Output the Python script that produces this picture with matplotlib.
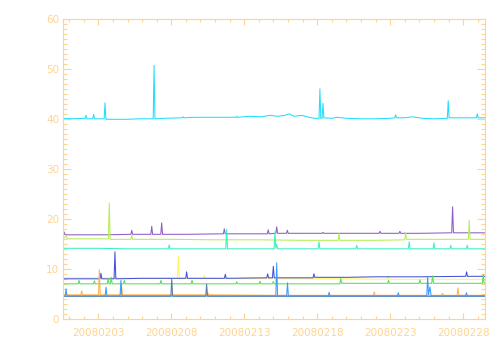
import numpy as np
import matplotlib
matplotlib.use("Agg")
import matplotlib.pyplot as plt

# axis colour (IDL style light orange)
axcol = '#FFD48F'

# x in day-of-month (Feb 2008), y in raw units
cyan_x = [0.6, 1.2, 2.1, 2.16, 2.22, 2.62, 2.68, 2.74, 3.4, 3.46, 3.52, 4.2, 5.0, 5.8,
          6.76, 6.82, 6.88, 7.5, 8.74, 8.80, 8.86, 9.5, 10.5, 11.5, 12.42, 12.48, 12.54,
          13.39, 14.2, 14.76, 15.3, 15.8, 16.08, 16.4, 16.95, 17.3, 17.8, 18.12, 18.18,
          18.24, 18.33, 18.39, 18.45, 19.0, 19.34, 20.0, 21.0, 22.0, 23.0, 23.31, 23.37,
          23.43, 24.0, 24.55, 25.2, 26.0, 26.91, 26.97, 27.03, 28.0, 28.9, 28.96, 29.02, 29.49]
cyan_y = [40.2, 40.1, 40.2, 40.8, 40.1, 40.1, 41.0, 40.1, 40.1, 43.3, 40.0, 40.0, 40.0, 40.1,
          40.1, 50.8, 40.1, 40.2, 40.3, 40.5, 40.3, 40.4, 40.4, 40.4, 40.4, 40.6, 40.4,
          40.6, 40.5, 40.8, 40.6, 40.8, 41.1, 40.6, 40.8, 40.5, 40.2, 40.2, 46.1,
          40.2, 40.2, 43.2, 40.3, 40.2, 40.4, 40.2, 40.1, 40.1, 40.2, 40.3, 40.9,
          40.3, 40.3, 40.5, 40.2, 40.1, 40.2, 43.7, 40.3, 40.3, 40.3, 41.1, 40.3, 40.3]

purple_x = [0.6, 0.65, 0.72, 2.0, 3.5, 5.23, 5.29, 5.35, 6.60, 6.66, 6.72, 7.28, 7.34, 7.40,
            9.0, 11.57, 11.63, 11.69, 13.0, 14.58, 14.64, 14.70, 15.16, 15.22, 15.28, 15.89,
            15.95, 16.01, 18.33, 18.39, 18.45, 20.0, 22.23, 22.29, 22.35, 23.60, 23.66, 23.72,
            25.0, 27.21, 27.27, 27.33, 29.49]
purple_y = [17.0, 17.5, 16.9, 16.9, 16.9, 17.0, 17.8, 17.0, 17.0, 18.6, 17.0, 17.0, 19.3, 17.0,
            17.0, 17.1, 18.1, 17.1, 17.1, 17.1, 17.9, 17.1, 17.2, 18.5, 17.2, 17.2,
            17.8, 17.2, 17.2, 17.4, 17.2, 17.2, 17.2, 17.6, 17.2, 17.2, 17.6, 17.2,
            17.2, 17.3, 22.5, 17.3, 17.3]

lgreen_x = [0.6, 0.79, 0.9, 2.5, 3.69, 3.75, 3.81, 5.23, 5.29, 5.35, 8.0, 11.0, 14.0, 17.0,
            19.43, 19.49, 19.55, 22.0, 23.99, 24.05, 24.11, 26.0, 28.35, 28.41, 28.47, 29.49]
lgreen_y = [16.1, 16.6, 16.1, 16.1, 16.1, 23.3, 16.0, 16.0, 16.8, 16.0, 16.0, 15.9, 15.9, 15.8,
            15.8, 17.2, 15.8, 15.8, 15.9, 17.3, 16.0, 16.0, 16.0, 19.8, 16.0, 16.0]

aqua_x = [0.6, 3.0, 5.0, 7.80, 7.86, 7.92, 10.0, 11.73, 11.79, 11.85, 13.5, 15.04, 15.10,
          15.16, 15.22, 15.28, 18.06, 18.12, 18.18, 20.64, 20.70, 20.76, 24.24, 24.30, 24.36,
          25.93, 25.99, 26.05, 27.08, 27.14, 27.20, 28.21, 28.27, 28.33, 29.49]
aqua_y = [14.2, 14.2, 14.1, 14.1, 14.9, 14.1, 14.1, 14.1, 18.0, 14.1, 14.1, 14.1, 17.5,
          14.2, 15.0, 14.1, 14.1, 15.5, 14.1, 14.1, 14.8, 14.1, 14.1, 15.5, 14.1,
          14.1, 15.3, 14.1, 14.1, 14.8, 14.1, 14.1, 14.8, 14.1, 14.1]

yellow_x = [0.6, 3.0, 6.0, 8.42, 8.48, 8.54, 10.2, 10.26, 10.32, 15.0, 20.0, 22.79, 22.85,
            22.91, 29.49]
yellow_y = [8.3, 8.3, 8.2, 8.2, 12.7, 8.2, 8.2, 8.8, 8.2, 8.1, 8.1, 8.0, 8.7, 8.0, 8.0]

blue_x = [0.6, 2.0, 3.12, 3.18, 3.24, 4.08, 4.14, 4.20, 6.0, 8.99, 9.05, 9.11, 11.64, 11.70,
          11.76, 14.54, 14.60, 14.66, 14.93, 14.99, 15.05, 17.71, 17.77, 17.83, 20.0, 22.0,
          25.0, 28.17, 28.23, 28.29, 29.49]
blue_y = [8.1, 8.1, 8.1, 9.2, 8.1, 8.1, 13.5, 8.1, 8.2, 8.2, 9.5, 8.2, 8.2, 9.0,
          8.2, 8.3, 9.1, 8.3, 8.3, 10.6, 8.3, 8.3, 9.1, 8.4, 8.4, 8.5,
          8.5, 8.6, 9.5, 8.6, 8.6]

green_x = [0.6, 1.62, 1.68, 1.74, 2.67, 2.73, 2.79, 3.62, 3.68, 3.74, 3.83, 3.89, 3.95,
           4.72, 4.78, 4.84, 7.23, 7.29, 7.35, 9.36, 9.42, 9.48, 12.42, 12.48, 12.54,
           14.02, 14.08, 14.14, 14.93, 14.99, 15.05, 19.55, 19.61, 19.67, 22.82, 22.88,
           22.94, 24.97, 25.03, 25.09, 25.84, 25.90, 25.96, 29.31, 29.37, 29.43, 29.49]
green_y = [7.1, 7.1, 7.8, 7.1, 7.1, 7.7, 7.1, 7.1, 8.2, 7.1, 7.1, 8.4, 7.1,
           7.1, 7.8, 7.1, 7.1, 7.8, 7.1, 7.1, 7.8, 7.1, 7.1, 7.5, 7.1,
           7.1, 7.6, 7.1, 7.1, 7.6, 7.1, 7.1, 8.1, 7.2, 7.2, 7.8,
           7.2, 7.2, 7.9, 7.2, 7.2, 8.7, 7.2, 7.2, 9.0, 7.2, 7.2]

orange_x = [0.6, 1.80, 1.86, 1.92, 3.01, 3.07, 3.13, 4.53, 4.59, 4.65, 10.43, 10.49, 10.55,
            15.0, 21.84, 21.90, 21.96, 26.52, 26.58, 26.64, 27.58, 27.64, 27.70, 29.49]
orange_y = [4.9, 4.9, 5.7, 4.9, 4.9, 9.9, 4.9, 4.9, 7.0, 4.9, 4.9, 5.4, 4.9,
            4.8, 4.8, 5.5, 4.8, 4.8, 5.2, 4.8, 4.8, 6.3, 4.8, 4.8]

slate_x = [0.6, 7.97, 8.03, 8.09, 10.36, 10.42, 10.48, 29.49]
slate_y = [4.6, 4.6, 8.1, 4.6, 4.6, 7.0, 4.6, 4.6]

lblue_x = [0.6, 0.73, 0.79, 0.85, 3.47, 3.53, 3.59, 4.49, 4.55, 4.61, 15.16, 15.22, 15.28,
           15.90, 15.96, 16.02, 18.75, 18.81, 18.87, 23.49, 23.55, 23.61, 25.50, 25.56,
           25.62, 25.72, 25.80, 28.16, 28.22, 28.28, 29.49]
lblue_y = [4.7, 4.7, 6.1, 4.7, 4.7, 6.4, 4.7, 4.7, 7.8, 4.7, 4.7, 11.3, 4.7,
           4.7, 7.3, 4.7, 4.7, 5.4, 4.7, 4.7, 5.3, 4.7, 4.7, 8.6,
           4.9, 6.5, 4.7, 4.7, 5.3, 4.7, 4.7]

series = [
    (cyan_x, cyan_y, '#22DDFF'),
    (purple_x, purple_y, '#8E5CC8'),
    (lgreen_x, lgreen_y, '#B6EE55'),
    (aqua_x, aqua_y, '#3CF0C0'),
    (yellow_x, yellow_y, '#FFF65A'),
    (blue_x, blue_y, '#4650E0'),
    (green_x, green_y, '#55E055'),
    (orange_x, orange_y, '#FFB347'),
    (slate_x, slate_y, '#5A78A8'),
    (lblue_x, lblue_y, '#3A9BFF'),
]

major_days = [3, 8, 13, 18, 23, 28]
major_labels = ['20080203', '20080208', '20080213', '20080218', '20080223', '20080228']

fig = plt.figure(figsize=(5.04, 3.6), dpi=100)
ax = fig.add_axes([0.1244, 0.113, 0.8379, 0.8334])

for xs, ys, c in series:
    ax.plot(xs, ys, color=c, lw=0.75)

ax.set_xlim(0.56, 29.49)
ax.set_ylim(0, 60)
ax.set_xticks(major_days)
ax.set_xticklabels(major_labels)
ax.set_xticks(range(1, 30), minor=True)
ax.set_yticks(range(0, 61, 10))
ax.set_yticks(range(0, 61, 1), minor=True)

for s in ax.spines.values():
    s.set_color(axcol)
    s.set_linewidth(0.8)

ax.tick_params(axis='both', which='both', direction='in', colors=axcol,
               top=True, right=True, width=0.8, labelsize=7.5)
ax.tick_params(axis='x', which='major', length=4.3, pad=6)
ax.tick_params(axis='x', which='minor', length=2.4)
ax.tick_params(axis='y', which='major', length=5.8, pad=2.5)
ax.tick_params(axis='y', which='minor', length=2.9)

fig.savefig('out.png', dpi=100)
